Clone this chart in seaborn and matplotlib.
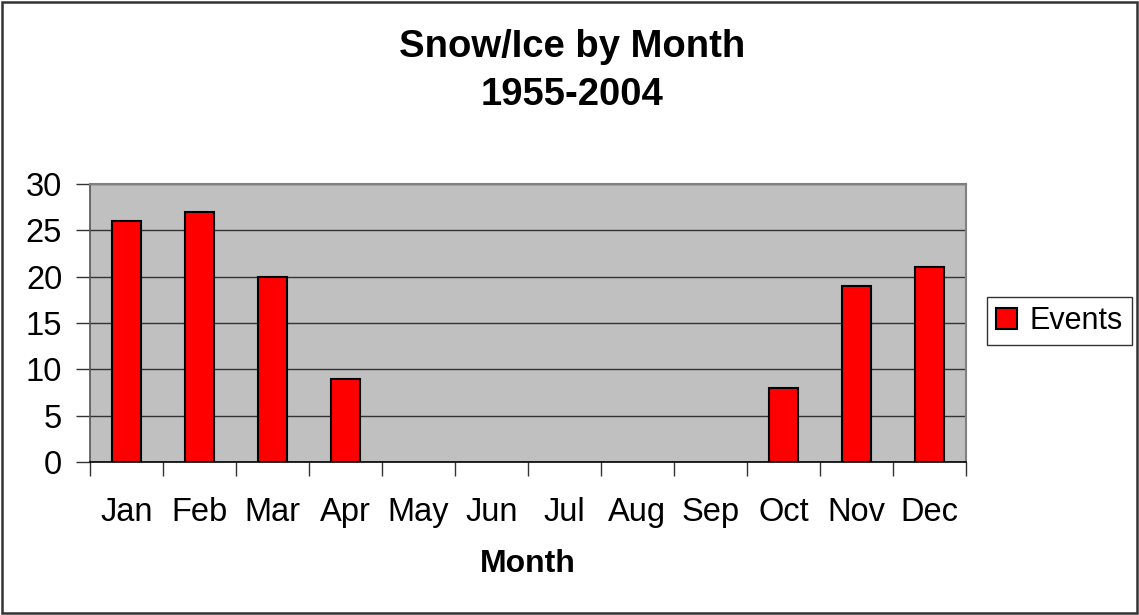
import matplotlib
matplotlib.use("Agg")
import matplotlib.pyplot as plt
import seaborn as sns
import pandas as pd
from matplotlib.patches import Rectangle

months = ["Jan", "Feb", "Mar", "Apr", "May", "Jun",
          "Jul", "Aug", "Sep", "Oct", "Nov", "Dec"]
events = [26, 27, 20, 9, 0, 0, 0, 0, 0, 8, 19, 21]
series_name = "Events"
title = "Snow/Ice by Month\n1955-2004"
x_label = "Month"
y_ticks = [0, 5, 10, 15, 20, 25, 30]

df = pd.DataFrame({"Month": months, series_name: events})

sns.set_style("white")
plt.rcParams["font.family"] = ["Liberation Sans", "DejaVu Sans"]
plt.rcParams["text.color"] = "black"
plt.rcParams["xtick.color"] = "black"
plt.rcParams["ytick.color"] = "black"
plt.rcParams["axes.labelcolor"] = "black"

W, H = 1139, 615
fig = plt.figure(figsize=(W / 100, H / 100), dpi=100)
ax = fig.add_axes([90 / W, 1 - 462 / H, 876 / W, 278 / H])

sns.barplot(data=df, x="Month", y=series_name, color="#FF0000", width=0.41,
            edgecolor="black", linewidth=1.5, saturation=1, label=series_name,
            ax=ax, zorder=3)

# months without events get no visible bar outline
for patch in ax.patches:
    if patch.get_height() == 0:
        patch.set_linewidth(0)

ax.set_facecolor("#C0C0C0")
ax.set_ylim(0, 30)
ax.set_yticks(y_ticks)
ax.set_xlim(-0.5, len(months) - 0.5)
ax.yaxis.grid(True, color="#333333", linewidth=1.0, zorder=0)
ax.set_axisbelow(True)

# category ticks sit between the bars
ax.set_xticks([i - 0.5 for i in range(len(months) + 1)], minor=False)
ax.set_xticklabels([])
ax.set_xticks(range(len(months)), minor=True)
ax.set_xticklabels(months, minor=True)
ax.tick_params(axis="x", which="major", direction="out", length=10,
               width=1, color="#333333", bottom=True)
ax.tick_params(axis="x", which="minor", length=0, pad=25, labelsize=23.5)
ax.tick_params(axis="y", direction="out", length=10, width=1,
               color="#333333", left=True, pad=10, labelsize=23.5)

for side in ["top", "right"]:
    ax.spines[side].set_visible(True)
    ax.spines[side].set_color("#808080")
    ax.spines[side].set_linewidth(1.5)
ax.spines["left"].set_color("#555555")
ax.spines["left"].set_linewidth(1.2)
ax.spines["bottom"].set_color("black")
ax.spines["bottom"].set_linewidth(1.2)

ax.set_ylabel("")
ax.set_xlabel(x_label, fontsize=23, fontweight="bold", va="center")
ax.xaxis.set_label_coords(0.5, (462 - 564) / 278)

fig.text(572 / W, 1 - 71 / H, title, ha="center", va="center",
         fontsize=27.5, fontweight="bold", linespacing=1.4)

leg = ax.legend(loc="center", bbox_to_anchor=(1059.5 / W, 1 - 321 / H),
                bbox_transform=fig.transFigure, fontsize=22, frameon=True,
                fancybox=False, handlelength=0.7, handleheight=0.7,
                handletextpad=0.4, borderpad=0.3, borderaxespad=0)
leg.get_frame().set_edgecolor("black")
leg.get_frame().set_linewidth(1.0)

fig.patches.append(Rectangle((2 / W, 2 / H), 1135 / W, 611 / H,
                             transform=fig.transFigure, fill=False,
                             edgecolor="#333333", linewidth=1.8))

fig.savefig("out.png", dpi=100, facecolor="white")
